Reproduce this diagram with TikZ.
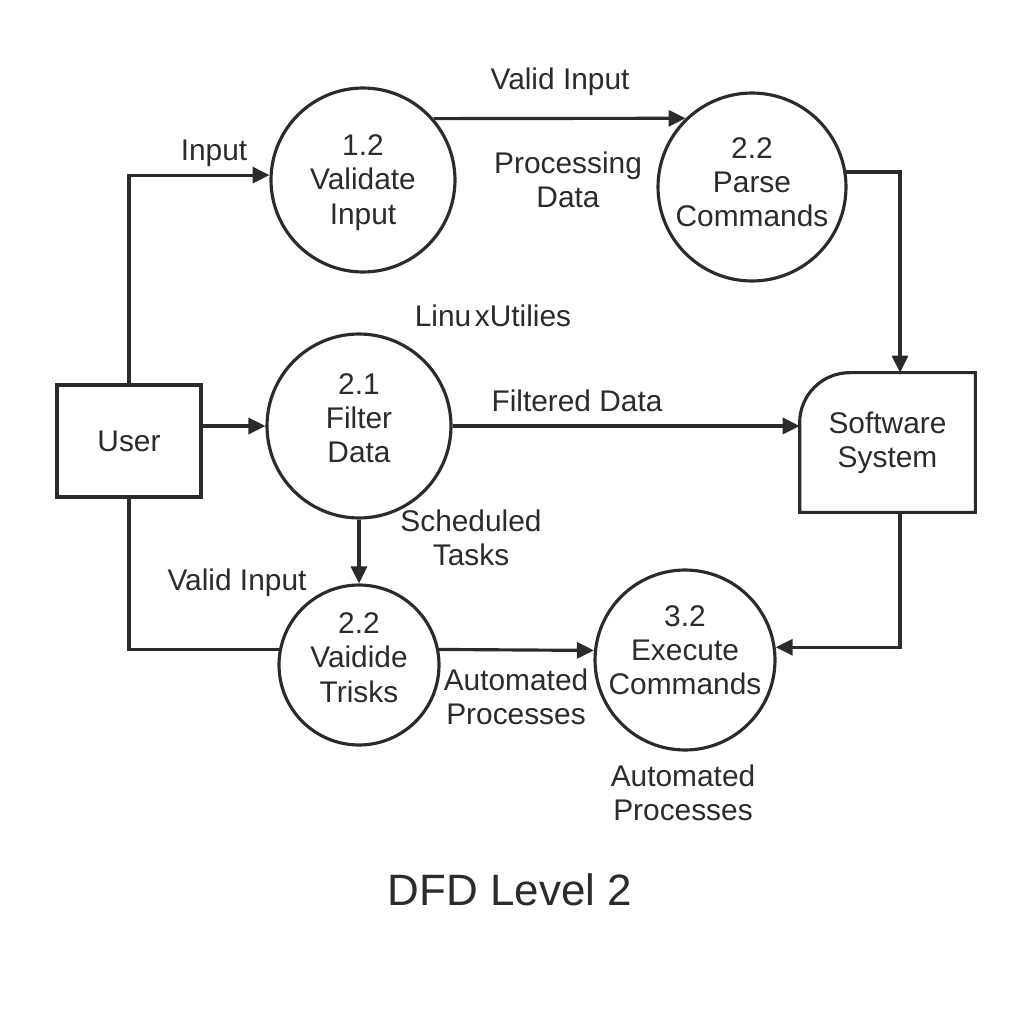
\documentclass[tikz,border=0pt]{standalone}
\usepackage{fontspec}
\setmainfont{Liberation Sans}
\usetikzlibrary{arrows.meta}
\definecolor{ink}{HTML}{2B2B2B}

\begin{document}
\begin{tikzpicture}[x=0.02cm, y=-0.02cm,
  every node/.style={text=ink, font=\fontsize{17}{19.5}\selectfont, align=center},
  proc/.style={circle, draw=ink, line width=1.8pt, minimum size=#1, inner sep=0pt},
  ext/.style={rectangle, draw=ink, line width=1.8pt, minimum width=2.88cm, minimum height=2.24cm},
  flow/.style={draw=ink, line width=1.8pt, -{Triangle[length=0.34cm, width=0.32cm]}},
  plain/.style={draw=ink, line width=1.8pt}]

% 画布大小
\useasboundingbox (0,0) rectangle (1024,1024);

% 外部实体
\node[ext] (user) at (129,441) {User};

% 处理过程(文字放在圆心略偏上)
\node[proc=3.68cm, label={[yshift=-0.05cm]center:1.2\\Validate\\Input}] (validate) at (363,180) {};
\node[proc=3.76cm, label={[yshift=0.1cm]center:2.2\\Parse\\Commands}] (parse) at (752,187) {};
\node[proc=3.68cm, label={[yshift=0.16cm]center:2.1\\Filter\\Data}] (filter) at (359,426) {};
\node[proc=3.2cm, label={[yshift=0.15cm]center:2.2\\Vaidide\\Trisks}] (tasks) at (359,665) {};
\node[proc=3.6cm, label={[yshift=0.2cm]center:3.2\\Execute\\Commands}] (execute) at (685,660) {};

% 软件系统(左上角为圆角)
\node[minimum width=3.5cm, minimum height=2.78cm] (system) at (887.5,442.5) {Software\\System};
\draw[plain] (system.south west) -- ([yshift=-1cm]system.north west)
  arc[start angle=180, end angle=90, radius=1cm] -- (system.north east)
  -- (system.south east) -- cycle;

% 数据流
\draw[flow] (user.north) |- (validate.177);
\draw[flow] (validate.41) -- (parse.134.5);
\draw[flow] (parse.9) -| ([xshift=0.25cm]system.north);
\draw[flow] (user.east |- filter.west) -- (filter.west);
\draw[flow] (filter.east) -- (filter.east -| system.west);
\draw[flow] (filter.south) -- (tasks.north);
\draw[plain] (user.south) |- (tasks.169);
\draw[flow] (tasks.11) -- (execute.174);
\draw[flow] ([xshift=0.25cm]system.south) |- (execute.8);

% 数据流标签
\node (lin) at (214,153) {Input};
\node (lvalid) at (560,82) {Valid Input};
\node (lproc) at (568,180) {Processing\\Data};
\node (lutil) at (493,316) {Linu\hspace{2pt}xUtilies};
\node (lfilt) at (577,401) {Filtered Data};
\node (lsched) at (471,538) {Scheduled\\Tasks};
\node (lvalid2) at (237,583) {Valid Input};
\node (lauto) at (516,697) {Automated\\Processes};
\node (lauto2) at (683,793) {Automated\\Processes};

% 标题
\node[font=\fontsize{25}{29}\selectfont] (title) at (510,890) {DFD Level 2};

\end{tikzpicture}
\end{document}
